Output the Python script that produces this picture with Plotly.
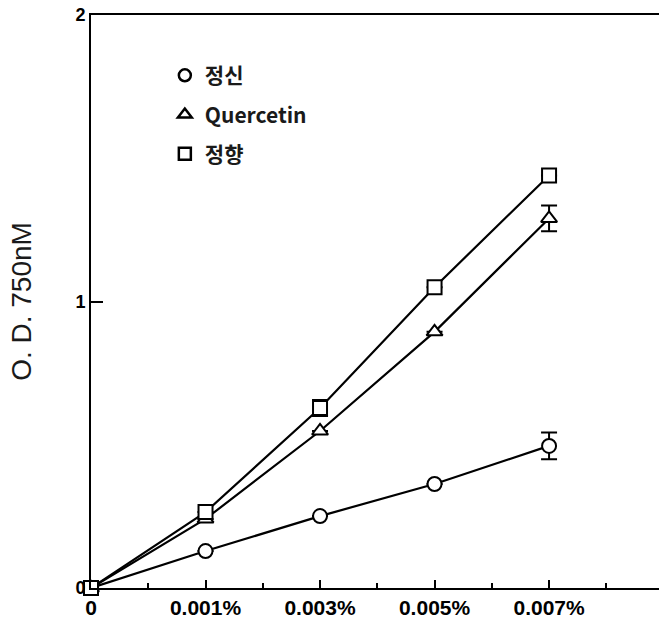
import plotly.graph_objects as go

x_labels = ["0", "0.001%", "0.003%", "0.005%", "0.007%"]
x_pos = [0, 1, 2, 3, 4]

jeongsin = [0, 0.129, 0.251, 0.363, 0.496]
jeongsin_err = [0, 0, 0, 0, 0.047]
quercetin = [0, 0.241, 0.548, 0.894, 1.29]
quercetin_err = [0, 0, 0, 0, 0.045]
jeonghyang = [0, 0.265, 0.628, 1.05, 1.44]
jeonghyang_err = [0, 0, 0.028, 0, 0]

names = ["정신", "Quercetin", "정향"]
symbols = ["circle", "triangle-up", "square"]
series = [jeongsin, quercetin, jeonghyang]
errs = [jeongsin_err, quercetin_err, jeonghyang_err]

fig = go.Figure()
for i, (name, sym, ys, e) in enumerate(zip(names, symbols, series, errs)):
    fig.add_trace(go.Scatter(
        x=x_pos, y=ys, mode="lines+markers", showlegend=False,
        line=dict(color="black", width=2.2),
        marker=dict(symbol=sym, size=14, color="white",
                    line=dict(color="black", width=2)),
        error_y=dict(type="data", array=e, visible=True, color="black",
                     thickness=2, width=8),
        cliponaxis=False,
    ))
    fig.add_trace(go.Scatter(
        x=[None], y=[None], mode="markers", name=name, legendgroup=str(i),
        marker=dict(symbol=sym, size=12, color="white",
                    line=dict(color="black", width=2.5)),
    ))

fig.update_layout(
    width=659, height=636,
    margin=dict(l=91, r=0, t=15, b=48),
    plot_bgcolor="white", paper_bgcolor="white",
    font=dict(family="Noto Sans CJK KR, Arial", color="black"),
    legend=dict(x=0.13, y=0.93, xanchor="left", yanchor="top",
                bgcolor="rgba(0,0,0,0)",
                font=dict(size=21, color="#1a1a1a", weight="bold"),
                itemwidth=30, tracegroupgap=9),
    xaxis=dict(
        range=[0, 4.96], tickvals=x_pos, ticktext=x_labels,
        showline=True, linecolor="black", linewidth=2, mirror=True,
        ticks="inside", ticklen=8, tickwidth=2, tickcolor="black",
        tickfont=dict(size=21, family="Arial", color="black", weight="bold"),
        showgrid=False, zeroline=False,
        minor=dict(tickvals=[0.5, 1.5, 2.5, 3.5, 4.5], ticks="inside",
                   ticklen=5, tickwidth=1.5, tickcolor="black"),
    ),
    yaxis=dict(
        range=[0, 2], tickvals=[0, 1, 2], ticktext=["0", "1", "2"],
        showline=True, linecolor="black", linewidth=2,
        ticks="inside", ticklen=12, tickwidth=2, tickcolor="black",
        tickfont=dict(size=18, family="Arial", color="black", weight="bold"),
        showgrid=False, zeroline=False,
        title=dict(text="O. D. 750nM",
                   font=dict(size=28, family="Liberation Sans", color="#1a1a1a"),
                   standoff=36),
    ),
)

fig.write_html("out.html")
